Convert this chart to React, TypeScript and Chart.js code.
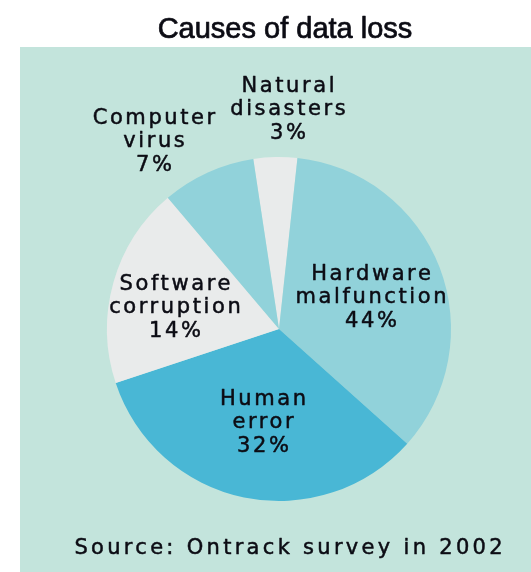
import React, { useEffect, useRef } from "react";
import { Chart, registerables } from "chart.js";

Chart.register(...registerables);

// Categories in clockwise order, starting at the top of the pie
const categories = [
  "Natural disasters",
  "Hardware malfunction",
  "Human error",
  "Software corruption",
  "Computer virus",
];
// Percentages printed on the labels of the original graphic
const labelPercents = [3, 44, 32, 14, 7];
// Slice shares as drawn in the original graphic (its slices are not drawn to the printed percentages)
const sliceShares = [4.1, 34.9, 33.3, 18.9, 8.8];
// Label text lines
const labelLines = [
  ["Natural", "disasters"],
  ["Hardware", "malfunction"],
  ["Human", "error"],
  ["Software", "corruption"],
  ["Computer", "virus"],
];
const titleText = "Causes of data loss";
const sourceText = "Source: Ontrack survey in 2002";

// Styles
const sliceColors = ["#e9ebeb", "#91d2da", "#49b7d5", "#e9ebeb", "#91d2da"];
const panelColor = "#c3e4dc";
// label anchor offsets relative to the pie centre, in units of the radius
const labelOffsets = [
  [0.052, -1.244],
  [0.535, -0.151],
  [-0.093, 0.576],
  [-0.605, -0.093],
  [-0.727, -1.058],
];

const W = 531;
const H = 572;

export default function App() {
  const ref = useRef<HTMLCanvasElement | null>(null);

  useEffect(() => {
    document.body.style.margin = "0";
    const canvas = ref.current;
    if (!canvas) return;

    const panelPlugin = {
      id: "panel",
      beforeDraw(chart: any) {
        const ctx = chart.ctx;
        ctx.save();
        ctx.fillStyle = "#ffffff";
        ctx.fillRect(0, 0, chart.width, chart.height);
        ctx.fillStyle = panelColor;
        ctx.fillRect(20, 47, chart.width - 20, chart.height - 47);
        ctx.restore();
      },
    };

    const drawText = (ctx: CanvasRenderingContext2D, t: string, x: number, y: number, sw: number) => {
      ctx.fillText(t, x, y);
      if (sw > 0) {
        ctx.lineWidth = sw;
        ctx.strokeText(t, x, y);
      }
    };

    const textPlugin = {
      id: "texts",
      afterDatasetsDraw(chart: any) {
        const ctx = chart.ctx;
        const meta = chart.getDatasetMeta(0);
        ctx.save();
        ctx.fillStyle = "#0c0c14";
        ctx.strokeStyle = "#0c0c14";
        ctx.lineJoin = "round";
        ctx.textAlign = "center";
        ctx.textBaseline = "alphabetic";

        // title
        ctx.font = '29px "Liberation Sans", Arial, sans-serif';
        (ctx as any).letterSpacing = "0px";
        drawText(ctx, titleText, 285, 38, 0.7);

        // slice labels
        const ls = 2.6;
        ctx.font = '21px "DejaVu Sans", sans-serif';
        (ctx as any).letterSpacing = ls + "px";
        meta.data.forEach((arc: any, i: number) => {
          const r = arc.outerRadius;
          const ax = arc.x + labelOffsets[i][0] * r + ls / 2;
          const ay = arc.y + labelOffsets[i][1] * r;
          const lines = [...labelLines[i], labelPercents[i] + "%"];
          lines.forEach((t, j) => {
            drawText(ctx, t, ax, ay + (j - 1) * 23.5, 0.5);
          });
        });

        // source
        const ls2 = 3.3;
        (ctx as any).letterSpacing = ls2 + "px";
        drawText(ctx, sourceText, 288.5 + ls2 / 2, 554, 0.5);
        ctx.restore();
      },
    };

    const chart = new Chart(canvas, {
      type: "pie",
      data: {
        labels: categories,
        datasets: [
          {
            data: sliceShares,
            backgroundColor: sliceColors,
            borderWidth: 0,
          },
        ],
      },
      options: {
        responsive: false,
        animation: false,
        rotation: -8.6,
        layout: { padding: { left: 107, right: 80, top: 157, bottom: 71 } },
        plugins: {
          legend: { display: false },
          tooltip: { enabled: false },
          title: { display: false },
        },
      },
      plugins: [panelPlugin, textPlugin],
    });
    return () => chart.destroy();
  }, []);

  return (
    <div style={{ width: W, height: H, position: "relative" }}>
      <canvas ref={ref} width={W} height={H} style={{ width: W, height: H, display: "block" }} />
    </div>
  );
}
